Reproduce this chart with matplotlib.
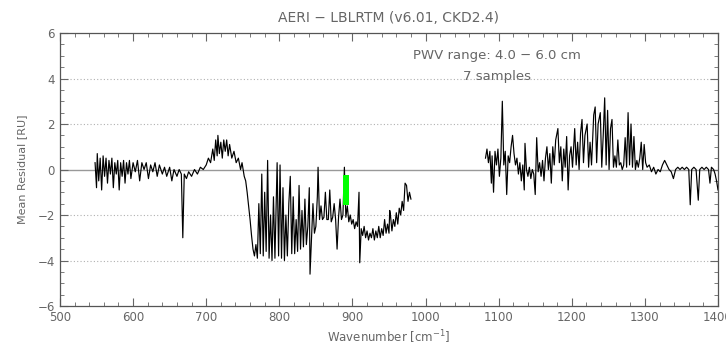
import numpy as np
import matplotlib
matplotlib.use("Agg")
import matplotlib.pyplot as plt

# Mean residual AERI - LBLRTM
# Segment 1 : 550 - 980 cm-1
wn_lo = [548, 550, 551, 553, 555, 557, 559, 561, 563, 565, 567, 569, 571, 573, 575, 577, 579, 581, 583, 585,
         587, 589, 591, 593, 595, 597, 600, 603, 606, 609, 612, 615, 618, 621, 624, 627, 630, 633, 636, 640,
         643, 646, 650, 653, 656, 660, 663, 666, 668, 670, 673, 676, 680, 684, 688, 692, 696, 700, 703, 706,
         709, 711, 713, 715, 716, 718, 720, 722, 724, 726, 728, 730, 732, 735, 738, 741, 744, 747, 749, 752,
         754, 756, 758, 760, 762, 764, 766, 768, 770, 772, 774, 776, 778, 780, 782, 784, 786, 788, 790, 792,
         794, 797, 799, 801, 803, 805, 807, 809, 811, 813, 815, 817, 819, 821, 823, 825, 827, 829, 831, 833,
         835, 837, 839, 841, 842, 844, 846, 848, 850, 852, 853, 855, 857, 859, 861, 863, 865, 867, 869, 871,
         873, 875, 877, 879, 881, 883, 885, 887, 889, 891, 893, 895, 897, 899, 901, 903, 905, 907, 909, 910,
         912, 914, 916, 918, 920, 922, 924, 926, 928, 930, 932, 934, 936, 938, 940, 942, 944, 946, 948, 950,
         951, 952, 954, 956, 958, 960, 962, 964, 966, 968, 970, 972, 974, 976, 978, 980]
res_lo = [0.3, -0.8, 0.7, -0.5, 0.5, -0.9, 0.6, -0.3, 0.5, -0.6, 0.4, -0.2, 0.5, -0.8, 0.3, -0.2, 0.4, -0.9, 0.3, -0.3,
          0.4, -0.6, 0.3, -0.2, 0.4, -0.4, 0.3, -0.1, 0.4, -0.5, 0.3, 0.0, 0.3, -0.4, 0.2, -0.1, 0.3, -0.3, 0.2, -0.2,
          0.1, -0.3, 0.1, -0.5, 0.0, -0.3, 0.0, -0.2, -3.0, -0.2, -0.4, -0.1, -0.3, 0.0, -0.2, 0.1, 0.0, 0.2, 0.5, 0.3,
          0.9, 0.4, 1.3, 0.6, 1.5, 0.7, 1.2, 0.5, 1.3, 0.8, 1.3, 0.6, 1.1, 0.5, 0.8, 0.3, 0.5, 0.0, 0.3, -0.3,
          -0.5, -1.0, -1.6, -2.2, -2.9, -3.5, -3.8, -3.3, -3.9, -1.5, -3.7, -0.2, -3.8, -1.0, -3.6, 0.4, -3.9, -2.0, -4.0, -1.2,
          -3.9, 0.3, -3.8, 0.2, -3.9, -0.8, -4.0, -2.0, -3.8, -1.5, -0.3, -3.7, -1.2, -3.7, -2.2, -3.6, -0.7, -3.5, -1.8, -3.4,
          -1.3, -3.3, -2.5, -0.8, -4.6, -3.0, -1.5, -2.8, -2.5, -1.2, 0.1, -2.2, -1.6, -2.2, -2.1, -1.0, -2.2, -2.2, -0.9, -2.3,
          -2.1, -1.5, -2.2, -3.5, -2.1, -1.3, -2.2, -2.0, 0.1, -2.1, -1.6, -2.3, -2.0, -2.4, -2.2, -2.6, -2.3, -2.5, -1.0, -4.1,
          -2.6, -2.9, -2.5, -3.0, -2.7, -3.1, -2.8, -3.0, -2.6, -3.1, -2.7, -3.0, -2.5, -3.0, -2.6, -2.9, -2.2, -2.8, -2.4, -2.8,
          -1.8, -2.0, -2.7, -2.2, -2.5, -1.9, -2.4, -1.7, -2.0, -1.4, -1.8, -0.6, -0.7, -1.4, -1.0, -1.3]

# Segment 2 : 1080 - 1400 cm-1
wn_hi = [1082, 1084, 1086, 1088, 1090, 1091, 1093, 1095, 1097, 1099, 1101, 1103, 1105, 1107, 1109, 1111, 1113, 1115,
         1117, 1119, 1121, 1123, 1125, 1127, 1129, 1131, 1133, 1135, 1136, 1138, 1140, 1142, 1144, 1146, 1148, 1150,
         1152, 1154, 1156, 1158, 1160, 1162, 1164, 1166, 1168, 1170, 1172, 1174, 1176, 1178, 1181, 1183, 1185, 1187,
         1189, 1191, 1193, 1195, 1197, 1199, 1201, 1204, 1206, 1208, 1210, 1212, 1214, 1216, 1218, 1221, 1223, 1225,
         1227, 1230, 1232, 1234, 1236, 1239, 1241, 1243, 1245, 1247, 1249, 1251, 1253, 1255, 1257, 1259, 1261, 1263,
         1265, 1267, 1269, 1271, 1273, 1275, 1277, 1279, 1281, 1283, 1285, 1287, 1289, 1291, 1293, 1295, 1297, 1299,
         1301, 1303, 1306, 1309, 1312, 1315, 1318, 1321, 1324, 1327, 1330, 1333, 1336, 1339, 1342, 1345, 1348, 1351,
         1354, 1357, 1360, 1362, 1364, 1367, 1370, 1373, 1375, 1378, 1381, 1384, 1387, 1389, 1391, 1394, 1396, 1398, 1400]
res_hi = [0.5, 0.9, 0.3, 0.8, -0.6, 0.6, -1.0, 0.8, 0.2, 0.9, -0.3, 0.5, 3.0, 0.2, 0.8, -1.1, 0.6, 0.3,
          1.0, 1.5, 0.7, 0.2, 0.5, -0.2, 0.3, -0.5, 0.2, -0.9, 1.15, 0.0, -0.3, 0.1, -0.4, 0.0, -0.2, -1.1,
          1.4, -0.1, 0.3, -0.3, 0.4, -0.5, 0.5, 1.0, 0.0, 0.7, -0.6, 1.0, 0.2, 1.3, 1.8, 0.3, 1.0, -0.5,
          0.9, 0.1, 1.45, -0.9, 0.6, 1.0, 0.1, 1.8, 0.2, 1.2, 0.0, 1.6, 2.2, 0.3, 1.5, 2.0, 0.1, 1.2,
          0.2, 2.4, 2.75, 0.3, 2.0, 2.5, 0.1, 1.5, 3.15, 0.2, 2.6, 0.0, 1.8, 2.2, 0.1, 0.6, 0.1, 1.3,
          0.2, 0.3, 0.0, 0.2, 1.4, 0.1, 2.5, 0.2, 2.0, 0.1, 1.45, 0.0, 0.4, 0.1, 0.5, 1.2, 0.0, 1.1,
          0.3, 0.1, 0.2, -0.1, 0.1, -0.2, 0.0, -0.1, 0.2, 0.4, 0.2, 0.0, -0.1, -0.4, 0.0, 0.1, 0.0, 0.1,
          0.0, 0.1, 0.0, -1.55, 0.0, 0.1, 0.0, -1.35, 0.0, 0.1, 0.0, 0.1, 0.0, -0.6, 0.1, 0.0, -0.2, -0.5, -0.9]

# Green marker bar
green_wn = [891]
green_top = [-0.25]
green_bottom = [-1.55]

GREY = "#666666"

fig = plt.figure(figsize=(7.26, 3.46), dpi=100)
ax = fig.add_axes([0.0826, 0.1156, 0.9064, 0.789])

# Grid lines
for yv in [-4, -2, 2, 4]:
    ax.axhline(yv, color="#b0b0b0", lw=0.8, ls=(0, (1, 2)), zorder=1)
ax.axhline(0, color="#999999", lw=1.0, zorder=1)

ax.plot(wn_lo, res_lo, color="black", lw=0.85, zorder=3)
ax.plot(wn_hi, res_hi, color="black", lw=0.85, zorder=3)

ax.bar(green_wn, np.array(green_top) - np.array(green_bottom), bottom=green_bottom,
       width=9, color="#00ff00", zorder=4)

ax.set_xlim(500, 1400)
ax.set_ylim(-6, 6)
ax.set_xticks(np.arange(500, 1401, 100))
ax.set_xticks(np.arange(500, 1401, 20), minor=True)
ax.set_yticks(np.arange(-6, 7, 2))
ax.set_yticks(np.arange(-6, 6.1, 0.5), minor=True)
ax.tick_params(which="both", direction="in", top=True, right=True, colors=GREY, labelsize=8.5)
ax.tick_params(which="major", length=6)
ax.tick_params(which="minor", length=3)
for s in ax.spines.values():
    s.set_color("#555555")
    s.set_linewidth(0.9)

ax.set_title("AERI \u2212 LBLRTM (v6.01, CKD2.4)", color=GREY, fontsize=10, pad=8)
ax.set_xlabel("Wavenumber [cm$^{-1}$]", color=GREY, fontsize=8.5, labelpad=3)
ax.set_ylabel("Mean Residual [RU]", color=GREY, fontsize=8, labelpad=8)

ax.text(1098, 5.0, "PWV range: 4.0 \u2212 6.0 cm", color=GREY, fontsize=9.5, ha="center", va="center")
ax.text(1098, 4.1, "7 samples", color=GREY, fontsize=9.5, ha="center", va="center")

fig.savefig("out.png", dpi=100)
